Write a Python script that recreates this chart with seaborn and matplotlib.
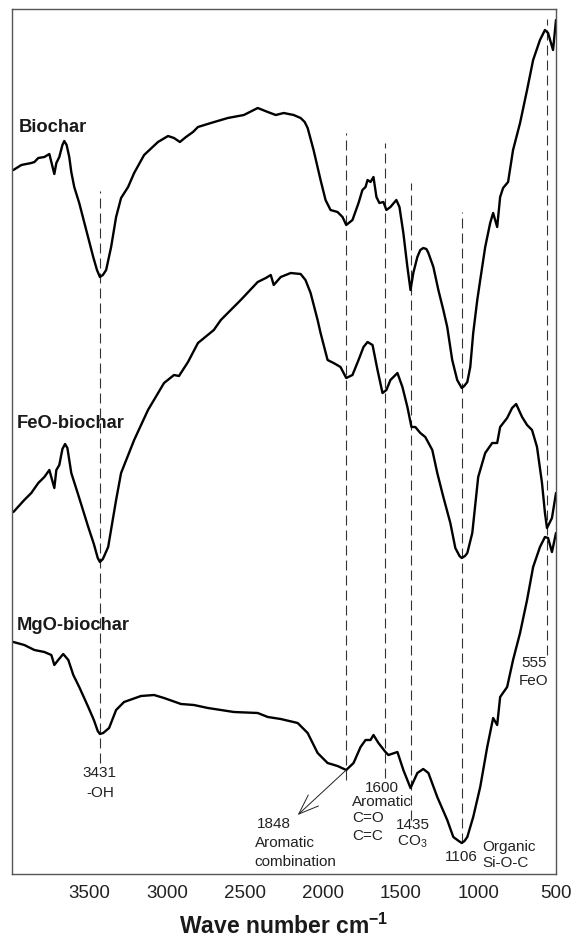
import numpy as np
import pandas as pd
import seaborn as sns
import matplotlib.pyplot as plt

# FTIR spectra (arbitrary transmittance units, stacked traces)
bio_wn = [3987, 3936, 3872, 3852, 3827, 3788, 3756, 3724, 3711, 3692, 3672, 3660, 3645, 3628, 3615, 3596,
          3564, 3519, 3474, 3450, 3431, 3412, 3391, 3359, 3327, 3295, 3250, 3211, 3147, 3058, 2993, 2955,
          2917, 2878, 2833, 2801, 2718, 2609, 2506, 2417, 2352, 2301, 2250, 2186, 2141, 2115, 2096, 2058,
          2013, 1981, 1949, 1904, 1872, 1848, 1808, 1769, 1744, 1724, 1711, 1692, 1673, 1654, 1635, 1609,
          1590, 1564, 1526, 1506, 1481, 1455, 1435, 1417, 1391, 1372, 1353, 1333, 1320, 1288, 1256, 1224,
          1199, 1167, 1135, 1106, 1090, 1070, 1051, 1032, 1006, 987, 955, 923, 904, 878, 859, 840, 808,
          776, 731, 686, 647, 603, 571, 551, 519, 500]
bio_t = [704, 709, 711, 712, 716, 717, 720, 700, 711, 717, 729, 733, 729, 717, 702, 687,
         671, 644, 617, 604, 597, 599, 604, 627, 657, 676, 687, 701, 719, 732, 738, 736,
         732, 737, 742, 747, 751, 756, 759, 766, 762, 759, 761, 759, 756, 752, 746, 724,
         694, 674, 664, 662, 657, 649, 654, 671, 684, 687, 694, 692, 697, 677, 671, 672,
         664, 667, 674, 667, 641, 607, 584, 601, 617, 624, 626, 625, 621, 607, 584, 564,
         547, 514, 494, 486, 488, 492, 507, 541, 574, 594, 627, 651, 661, 647, 677, 686, 692,
         724, 751, 784, 814, 834, 844, 841, 824, 854]

fe_wn = [3987, 3917, 3872, 3827, 3788, 3756, 3724, 3711, 3692, 3672, 3655, 3640, 3628, 3615, 3570, 3506,
         3470, 3445, 3431, 3412, 3378, 3327, 3295, 3211, 3122, 3019, 2955, 2923, 2865, 2801, 2699, 2654,
         2526, 2417, 2365, 2333, 2314, 2269, 2205, 2141, 2110, 2077, 2032, 2013, 1968, 1929, 1885, 1848,
         1808, 1769, 1737, 1711, 1679, 1647, 1615, 1590, 1564, 1519, 1487, 1455, 1429, 1404, 1372, 1340,
         1295, 1263, 1224, 1179, 1147, 1120, 1106, 1085, 1070, 1038, 1000, 955, 910, 878, 859, 814, 782,
         756, 718, 686, 654, 622, 590, 571, 558, 526, 500]
fe_t = [362, 374, 381, 391, 397, 404, 386, 404, 409, 425, 430, 426, 414, 401, 379, 347,
        330, 316, 312, 315, 327, 374, 401, 434, 464, 491, 499, 498, 512, 531, 544, 554,
        574, 592, 596, 599, 589, 597, 601, 600, 594, 581, 554, 541, 514, 511, 507, 496,
        499, 514, 527, 532, 529, 504, 481, 484, 494, 501, 487, 467, 447, 447, 441, 437,
        424, 401, 377, 351, 326, 318, 316, 318, 321, 341, 397, 421, 431, 431, 447, 456, 466,
        470, 457, 449, 444, 427, 391, 361, 346, 356, 381]

mg_wn = [3987, 3917, 3852, 3788, 3743, 3724, 3699, 3667, 3634, 3602, 3564, 3506, 3470, 3445, 3431, 3410,
         3372, 3327, 3276, 3167, 3083, 3019, 2910, 2827, 2737, 2570, 2417, 2352, 2269, 2160, 2096, 2032,
         1968, 1904, 1848, 1801, 1756, 1724, 1692, 1673, 1641, 1596, 1577, 1519, 1481, 1435, 1391, 1353,
         1320, 1263, 1199, 1160, 1125, 1106, 1088, 1070, 1032, 987, 942, 904, 878, 859, 814, 776, 731,
         686, 647, 603, 571, 551, 526, 500]
mg_t = [232, 229, 224, 222, 219, 209, 214, 220, 214, 199, 187, 167, 154, 143, 140, 141,
        146, 164, 172, 178, 179, 176, 170, 169, 166, 162, 161, 157, 155, 151, 141, 121,
        111, 108, 104, 111, 127, 134, 134, 139, 131, 122, 119, 122, 104, 86, 101, 105,
        101, 77, 54, 37, 33, 31, 33, 37, 57, 87, 127, 156, 149, 177, 187, 214, 241,
        274, 307, 327, 337, 336, 322, 341]

samples = ["Biochar", "FeO-biochar", "MgO-biochar"]
bands = [3431, 1848, 1600, 1435, 1106, 555]
xtick_values = [3500, 3000, 2500, 2000, 1500, 1000, 500]

sns.set_theme(style="white")
plt.rcParams["font.family"] = ["Liberation Sans", "DejaVu Sans"]
plt.rcParams["mathtext.fontset"] = "custom"
plt.rcParams["mathtext.rm"] = "Liberation Sans"
plt.rcParams["mathtext.bf"] = "Liberation Sans:bold"

df = pd.concat([
    pd.DataFrame({"wavenumber": bio_wn, "transmittance": bio_t, "sample": samples[0]}),
    pd.DataFrame({"wavenumber": fe_wn, "transmittance": fe_t, "sample": samples[1]}),
    pd.DataFrame({"wavenumber": mg_wn, "transmittance": mg_t, "sample": samples[2]}),
])

fig = plt.figure(figsize=(5.83, 9.44), dpi=100)
ax = fig.add_axes([12 / 583, 70 / 944, 544 / 583, 865 / 944])

for name in samples:
    sub = df[df["sample"] == name]
    sns.lineplot(data=sub, x="wavenumber", y="transmittance", color="black",
                 lw=1.7, ax=ax, sort=False, estimator=None,
                 solid_joinstyle="round", solid_capstyle="round")

# vertical band markers (lower and upper ends of each dashed guide)
band_span = {3431: (111, 683), 1848: (94, 741), 1600: (96, 731),
             1435: (54, 691), 1106: (31, 662), 555: (219, 855)}
for b in bands:
    lo, hi = band_span[b]
    ax.vlines(b, lo, hi, colors="#333333", lw=0.8, linestyles=(0, (9, 4.5)), zorder=1)

ax.set_xlim(3996, 500)
ax.set_ylim(0, 865)

# sample names
lab_kw = dict(fontsize=13.2, fontweight="bold", color="#1a1a1a", ha="left", va="center")
ax.text(3955, 746, samples[0], **lab_kw)
ax.text(3968, 451, samples[1], **lab_kw)
ax.text(3968, 249, samples[2], **lab_kw)

# band assignments
ann = dict(fontsize=11, color="#222222")
ax.text(3431, 101, "3431", ha="center", va="center", **ann)
ax.text(3431, 81, "-OH", ha="center", va="center", **ann)

ax.annotate("", xy=(2160, 59), xytext=(1848, 104),
            arrowprops=dict(arrowstyle="->,head_length=1.2,head_width=0.45", lw=0.7, color="#222222",
                            shrinkA=0, shrinkB=0))
ax.text(2420, 50, "1848", ha="left", va="center", **ann)
ax.text(2436, 31, "Aromatic", ha="left", va="center", **ann)
ax.text(2436, 12, "combination", ha="left", va="center", **ann)

ax.text(1622, 86, "1600", ha="center", va="center", **ann)
ax.text(1808, 72, "Aromatic", ha="left", va="center", **ann)
ax.text(1808, 56, "C=O", ha="left", va="center", **ann)
ax.text(1808, 38, "C=C", ha="left", va="center", **ann)

ax.text(1423, 49, "1435", ha="center", va="center", **ann)
ax.text(1426, 32, r"CO$_\mathregular{3}$", ha="center", va="center", **ann)

ax.text(1109, 17, "1106", ha="center", va="center", **ann)
ax.text(974, 27, "Organic", ha="left", va="center", **ann)
ax.text(974, 11, "Si-O-C", ha="left", va="center", **ann)

ax.text(641, 211, "555", ha="center", va="center", **ann)
ax.text(641, 193, "FeO", ha="center", va="center", **ann)

ax.set_xticks(xtick_values)
ax.set_xticklabels([str(v) for v in xtick_values], fontsize=13.5, color="#222222")
ax.set_yticks([])
ax.tick_params(axis="x", direction="out", length=4, width=0.9, color="#555555", pad=4)
ax.set_xlabel(r"Wave number cm$^{\mathbf{-1}}$", fontsize=16.5, fontweight="bold",
              color="#1a1a1a", labelpad=8)
ax.set_ylabel("")
for s in ax.spines.values():
    s.set_color("#555555")
    s.set_linewidth(1.0)

fig.savefig("out.png", dpi=100)
